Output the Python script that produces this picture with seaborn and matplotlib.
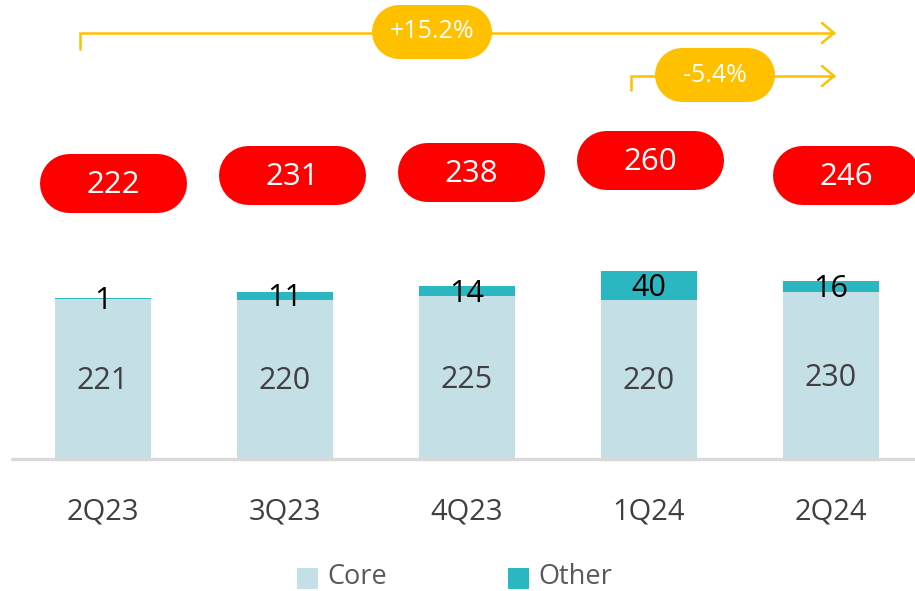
import matplotlib
matplotlib.use("Agg")
import matplotlib.pyplot as plt
from matplotlib.patches import Rectangle
import seaborn as sns
import pandas as pd

# Quarterly values
quarters = ["2Q23", "3Q23", "4Q23", "1Q24", "2Q24"]
core = [221, 220, 225, 220, 230]
other = [1, 11, 14, 40, 16]
# Reported totals (rounded figures as published)
reported_totals = [222, 231, 238, 260, 246]

# Growth callouts
growth_labels = ["+15.2%", "-5.4%"]

CORE_COLOR = "#C5DFE7"
OTHER_COLOR = "#2AB7C2"
RED = "#FF0000"
GOLD = "#FFC000"

sns.set_theme(style="white")
plt.rcParams["font.family"] = ["Open Sans", "DejaVu Sans"]

W, H = 915, 591
fig = plt.figure(figsize=(W / 100, H / 100), dpi=100)
fig.patch.set_facecolor("white")

# Main axes spanning the whole figure; bars drawn in data units
ax = fig.add_axes([0, 0, 1, 1])
df = pd.DataFrame({"quarter": quarters, "core": core,
                   "stack": [c + o for c, o in zip(core, other)]})

sns.barplot(data=df, x="quarter", y="stack", color=OTHER_COLOR, width=0.53,
            saturation=1, linewidth=0, ax=ax)
sns.barplot(data=df, x="quarter", y="core", color=CORE_COLOR, width=0.53,
            saturation=1, linewidth=0, ax=ax)

px_per_unit = 0.725
base_px = 132
ax.set_xlim(-103 / 182, (W - 103) / 182)
ax.set_ylim(-base_px / px_per_unit, (H - base_px) / px_per_unit)
ax.axis("off")
ax.axhline(0, xmin=12 / W, xmax=1, color="#D9D9D9", lw=2.4, zorder=3)

for i, (c, o) in enumerate(zip(core, other)):
    ax.text(i, c / 2 - 3, f"{c}", ha="center", va="center", fontsize=22,
            color="#404040", zorder=5)
    ax.text(i, c + o / 2 - 4, f"{o}", ha="center", va="center", fontsize=22,
            color="black", zorder=5)
    ax.text(i, -73, quarters[i], ha="center", va="center", fontsize=21,
            color="#404040")

# Overlay in pixel coordinates (origin bottom-left) for callouts and legend
ov = fig.add_axes([0, 0, 1, 1], zorder=10)
ov.set_xlim(0, W)
ov.set_ylim(0, H)
ov.axis("off")
ov.patch.set_alpha(0)

PT_PER_PX = 72 / 100


def py(y_top):
    """Convert a distance from the top edge into overlay y."""
    return H - y_top


def pill(cx, cy, w, h, color, z=3):
    """Capsule shape: a thick line with round caps."""
    half = (w - h) / 2
    ov.plot([cx - half, cx + half], [py(cy), py(cy)], color=color,
            lw=h * PT_PER_PX, solid_capstyle="round", zorder=z)


# Red total pills
pill_x = [113, 292, 471, 650, 846]
pill_y = [183, 175, 172, 160, 175]
for t, x, y in zip(reported_totals, pill_x, pill_y):
    pill(x, y, 147, 59, RED)
    ov.text(x, py(y + 2), f"{t}", ha="center", va="center", fontsize=22.5,
            color="white", zorder=5)


def growth_arrow(x0, y_line, y_start, x_tip, pill_cx, pill_cy, label):
    ov.plot([x0, x0, x_tip], [py(y_start), py(y_line), py(y_line)], color=GOLD,
            lw=1.8, solid_joinstyle="miter", zorder=2)
    ov.plot([x_tip - 12, x_tip, x_tip - 12],
            [py(y_line - 10), py(y_line), py(y_line + 10)], color=GOLD, lw=1.8,
            zorder=2)
    pill(pill_cx, pill_cy, 120, 54, GOLD, z=4)
    ov.text(pill_cx, py(pill_cy), label, ha="center", va="center", fontsize=18,
            color="white", zorder=5)


growth_arrow(80, 33, 49, 834, 432, 32, growth_labels[0])
growth_arrow(631, 76, 90, 834, 715, 75, growth_labels[1])

# Legend
for x, name, col in [(297, "Core", CORE_COLOR), (508, "Other", OTHER_COLOR)]:
    ov.add_patch(Rectangle((x, py(589)), 21, 21, facecolor=col, edgecolor="none"))
    ov.text(x + 30, py(577), name, ha="left", va="center", fontsize=19.5,
            color="#595959")

fig.savefig("out.png", dpi=100)
